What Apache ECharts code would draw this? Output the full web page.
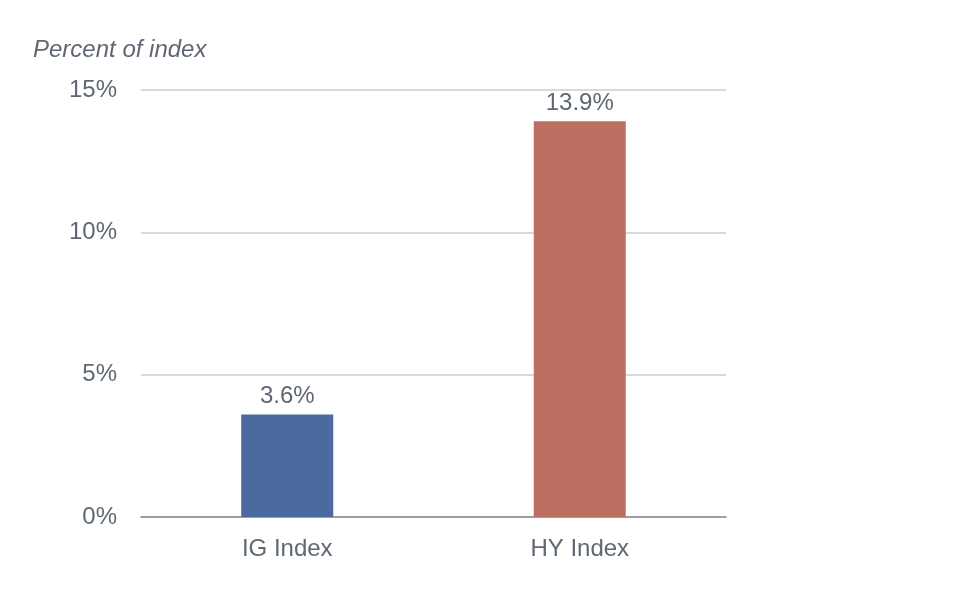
<!DOCTYPE html>
<html><head><meta charset="utf-8">
<script src="https://cdn.jsdelivr.net/npm/echarts@6/dist/echarts.min.js"></script>
<style>html,body{margin:0;padding:0;background:#fff}#c{width:972px;height:602px}</style>
</head><body><div id="c"></div>
<script>
const categories = ["IG Index", "HY Index"];
const values = [3.6, 13.9];
const barColors = ["#4a6aa0", "#bc6f61"];
const yTicks = [0, 5, 10, 15];

const chart = echarts.init(document.getElementById('c'));
chart.setOption({
  animation: false,
  textStyle: { fontFamily: 'Liberation Sans, Arial, sans-serif' },
  title: {
    text: 'Percent of index', left: 28, top: 33,
    textStyle: { fontSize: 24, fontStyle: 'italic', fontWeight: 'normal', color: '#5f6872', fontFamily: 'Liberation Sans, Arial, sans-serif' }
  },
  grid: { left: 141, right: 246, top: 90, bottom: 85, containLabel: false },
  xAxis: {
    type: 'category', data: categories,
    axisLine: { lineStyle: { color: '#8a8a8a', width: 1.5 } },
    axisTick: { show: false },
    axisLabel: { color: '#5f6872', fontSize: 24, margin: 20 }
  },
  yAxis: {
    type: 'value', min: yTicks[0], max: yTicks[yTicks.length - 1], interval: 5,
    axisLine: { show: false }, axisTick: { show: false },
    splitLine: { lineStyle: { color: '#cccccc', width: 1.5 } },
    axisLabel: { color: '#5f6872', fontSize: 24, margin: 24, formatter: v => v + '%' }
  },
  series: [{
    type: 'bar', barWidth: 92,
    data: values.map((v, i) => ({ value: v, itemStyle: { color: barColors[i] } })),
    label: { show: true, position: 'top', distance: 6, color: '#5f6872', fontSize: 24, formatter: p => p.value.toFixed(1) + '%' }
  }]
});
</script></body></html>
